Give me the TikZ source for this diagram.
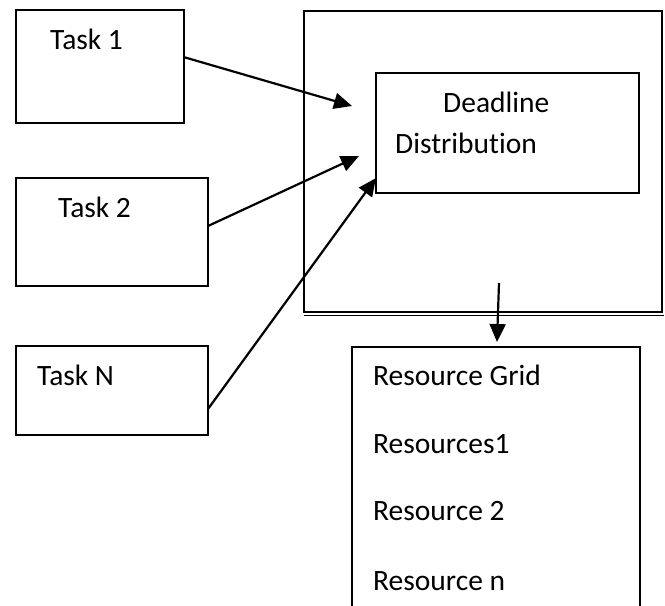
\documentclass[tikz,border=0pt]{standalone}
\usepackage{fontspec}
\setmainfont{Carlito}[Ligatures=NoCommon]
\usetikzlibrary{arrows.meta}
\begin{document}
\begin{tikzpicture}[x=1pt,y=-1pt,
  box/.style={draw, line width=2pt, inner sep=0pt, outer sep=0pt},
  lbl/.style={anchor=base west, inner sep=0pt, font=\fontsize{29.5}{34}\selectfont},
  conn/.style={line width=2.2pt, -{Triangle[length=18pt,width=16pt]}}]
\useasboundingbox (0,0) rectangle (665,606);
% task boxes
\node[box, minimum width=168pt, minimum height=113pt] (t1) at (99.5,66.5) {};
\node[box, minimum width=192pt, minimum height=108pt] (t2) at (112,232) {};
\node[box, minimum width=192pt, minimum height=89pt] (tn) at (112,390.5) {};
% outer box with double bottom
\node[box, minimum width=358pt, minimum height=301pt] (outer) at (483,161) {};
\draw[line width=1.4pt] (outer.south west) ++(0,-4pt) coordinate (ob1) -- ([xshift=2pt,yshift=-4pt]outer.south east);
% deadline box
\node[box, minimum width=263pt, minimum height=120pt] (dd) at (507.5,133) {};
% resource box (open at bottom, extends past the page)
\node[box, minimum width=288pt, minimum height=300pt] (rg) at (496,497) {};
% labels
\node[lbl] (lt1) at (50,49) {Task 1};
\node[lbl] (lt2) at (58,217) {Task 2};
\node[lbl] (ltn) at (37,385) {Task N};
\node[lbl] (ldd1) at (443,112) {Deadline};
\node[lbl] (ldd2) at (395,153) {Distribution};
\node[lbl] (lr0) at (373,385) {Resource Grid};
\node[lbl] (lr1) at (373,453) {Resources1};
\node[lbl] (lr2) at (373,520) {Resource 2};
\node[lbl] (lrn) at (373,590) {Resource n};
% arrow end points
\coordinate (e1) at (352,106);
\coordinate (e2) at (359,156);
\coordinate (ds) at (499,283);
\draw[conn] ([yshift=9.5pt]t1.east) -- (e1);
\draw[conn] ([yshift=6pt]t2.east) -- (e2);
\draw[conn] ([yshift=-18.5pt]tn.east) -- ([yshift=-45pt]dd.west);
\draw[conn] (ds) -- ([xshift=1pt,yshift=5pt]rg.north);
\end{tikzpicture}
\end{document}
